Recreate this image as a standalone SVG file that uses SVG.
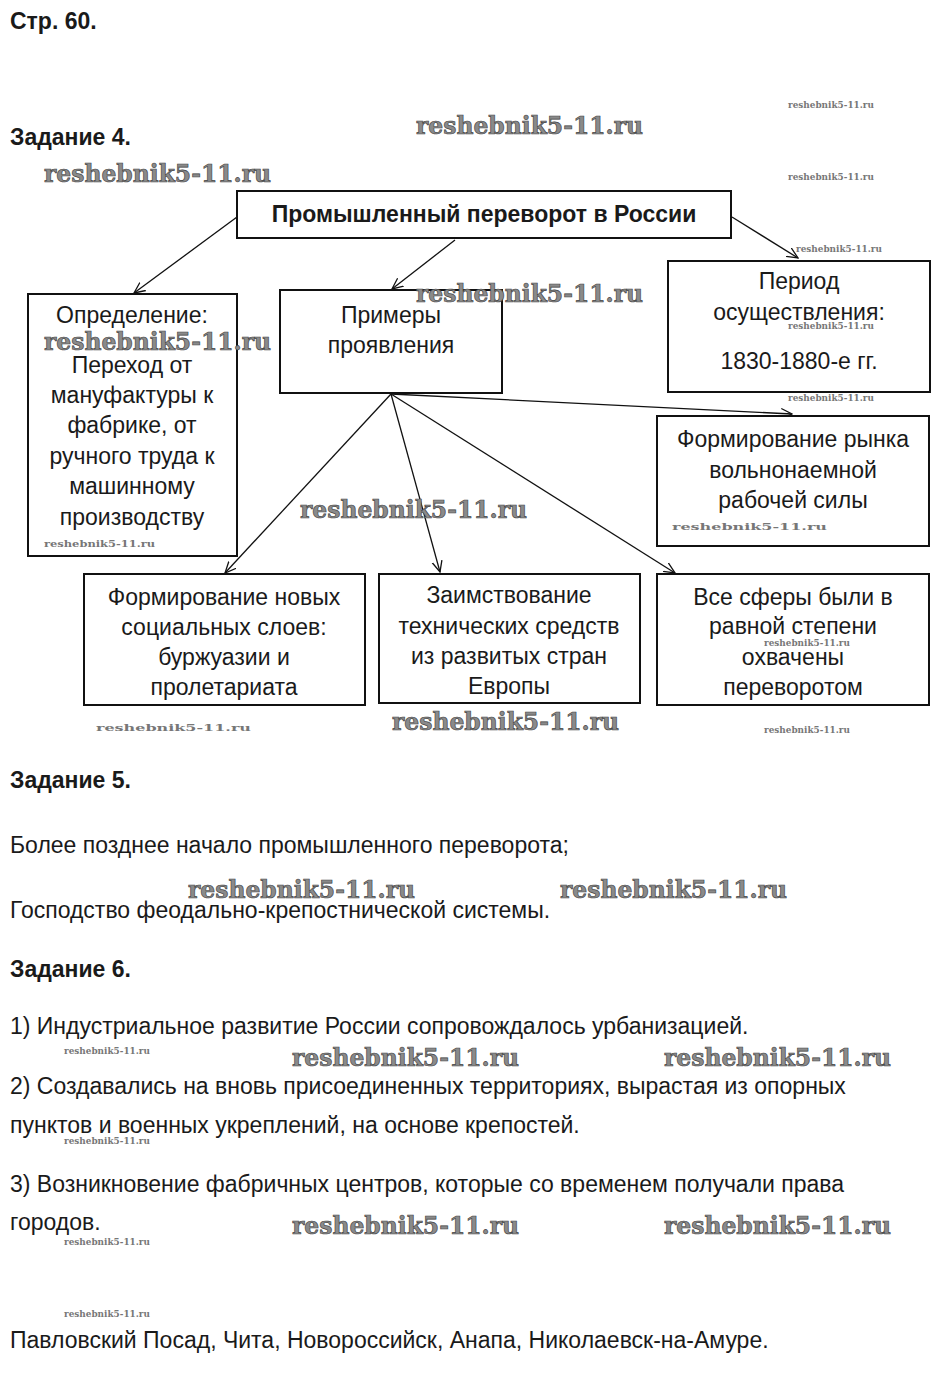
<svg xmlns="http://www.w3.org/2000/svg" width="940" height="1400" viewBox="0 0 940 1400">
<defs>
<style>
.t{font-family:"Liberation Sans",Arial,sans-serif;font-size:23px;fill:#1a1a1a}
.c{text-anchor:middle}
.b{font-weight:bold}
.box{fill:#fff;stroke:#111;stroke-width:2}
.ln{stroke:#111;stroke-width:1.3;fill:none;marker-end:url(#ah)}
.wm{font-family:"DejaVu Serif","Liberation Serif",serif;font-weight:bold;fill:#8a8a8a;stroke:#444;stroke-width:0.7}
.ws{font-family:"DejaVu Serif","Liberation Serif",serif;font-weight:bold;fill:#777;font-size:10px}
</style>
<marker id="ah" viewBox="0 0 12 12" refX="11" refY="6" markerWidth="12" markerHeight="12" markerUnits="userSpaceOnUse" orient="auto">
<polyline points="0,1 11,6 0,11" fill="none" stroke="#111" stroke-width="1.3"/>
</marker>
</defs>
<rect width="940" height="1400" fill="#fff"/>

<text class="t b" x="10" y="29">Стр. 60.</text>
<text class="t b" x="10" y="145">Задание 4.</text>

<g id="connectors">
<line class="ln" x1="237" y1="217" x2="134" y2="293"/>
<line class="ln" x1="455" y1="240" x2="392" y2="289"/>
<line class="ln" x1="732" y1="217" x2="798" y2="258"/>
<line class="ln" x1="391" y1="394" x2="792" y2="414"/>
<line class="ln" x1="391" y1="394" x2="675" y2="573"/>
<line class="ln" x1="391" y1="394" x2="440" y2="572"/>
<line class="ln" x1="391" y1="394" x2="225" y2="573"/>
</g>

<g id="n-title">
<rect class="box" x="237" y="191" width="494" height="47"/>
<text class="t b c" x="484" y="222">Промышленный переворот в России</text>
</g>
<g id="n-def">
<rect class="box" x="28" y="294" width="209" height="262"/>
<text class="t c" x="132" y="323">Определение:</text>
<text class="t c" x="132" y="373">Переход от</text>
<text class="t c" x="132" y="403">мануфактуры к</text>
<text class="t c" x="132" y="433">фабрике, от</text>
<text class="t c" x="132" y="464">ручного труда к</text>
<text class="t c" x="132" y="494">машинному</text>
<text class="t c" x="132" y="525">производству</text>
</g>
<g id="n-examples">
<rect class="box" x="280" y="290" width="222" height="103"/>
<text class="t c" x="391" y="323">Примеры</text>
<text class="t c" x="391" y="353">проявления</text>
</g>
<g id="n-period">
<rect class="box" x="668" y="261" width="262" height="131"/>
<text class="t c" x="799" y="289">Период</text>
<text class="t c" x="799" y="320">осуществления:</text>
<text class="t c" x="799" y="369">1830-1880-е гг.</text>
</g>
<g id="n-market">
<rect class="box" x="657" y="416" width="272" height="130"/>
<text class="t c" x="793" y="447">Формирование рынка</text>
<text class="t c" x="793" y="478">вольнонаемной</text>
<text class="t c" x="793" y="508">рабочей силы</text>
</g>
<g id="n-social">
<rect class="box" x="84" y="574" width="281" height="131"/>
<text class="t c" x="224" y="605">Формирование новых</text>
<text class="t c" x="224" y="635">социальных слоев:</text>
<text class="t c" x="224" y="665">буржуазии и</text>
<text class="t c" x="224" y="695">пролетариата</text>
</g>
<g id="n-borrow">
<rect class="box" x="379" y="574" width="261" height="129"/>
<text class="t c" x="509" y="603">Заимствование</text>
<text class="t c" x="509" y="634">технических средств</text>
<text class="t c" x="509" y="664">из развитых стран</text>
<text class="t c" x="509" y="694">Европы</text>
</g>
<g id="n-spheres">
<rect class="box" x="657" y="574" width="272" height="131"/>
<text class="t c" x="793" y="605">Все сферы были в</text>
<text class="t c" x="793" y="634">равной степени</text>
<text class="t c" x="793" y="665">охвачены</text>
<text class="t c" x="793" y="695">переворотом</text>
</g>

<text class="t b" x="10" y="788">Задание 5.</text>
<text class="t" x="10" y="853">Более позднее начало промышленного переворота;</text>
<text class="t" x="10" y="918">Господство феодально-крепостнической системы.</text>
<text class="t b" x="10" y="977">Задание 6.</text>
<text class="t" x="10" y="1034">1) Индустриальное развитие России сопровождалось урбанизацией.</text>
<text class="t" x="10" y="1094">2) Создавались на вновь присоединенных территориях, вырастая из опорных</text>
<text class="t" x="10" y="1133">пунктов и военных укреплений, на основе крепостей.</text>
<text class="t" x="10" y="1192">3) Возникновение фабричных центров, которые со временем получали права</text>
<text class="t" x="10" y="1230">городов.</text>
<text class="t" x="10" y="1348">Павловский Посад, Чита, Новороссийск, Анапа, Николаевск-на-Амуре.</text>

<g id="watermarks">
<text class="wm" x="416" y="134" font-size="25" textLength="227" lengthAdjust="spacingAndGlyphs">reshebnik5-11.ru</text>
<text class="wm" x="44" y="182" font-size="25" textLength="227" lengthAdjust="spacingAndGlyphs">reshebnik5-11.ru</text>
<text class="wm" x="416" y="302" font-size="25" textLength="227" lengthAdjust="spacingAndGlyphs">reshebnik5-11.ru</text>
<text class="wm" x="44" y="350" font-size="25" textLength="227" lengthAdjust="spacingAndGlyphs">reshebnik5-11.ru</text>
<text class="wm" x="300" y="518" font-size="25" textLength="227" lengthAdjust="spacingAndGlyphs">reshebnik5-11.ru</text>
<text class="wm" x="392" y="730" font-size="25" textLength="227" lengthAdjust="spacingAndGlyphs">reshebnik5-11.ru</text>
<text class="wm" x="188" y="898" font-size="25" textLength="227" lengthAdjust="spacingAndGlyphs">reshebnik5-11.ru</text>
<text class="wm" x="560" y="898" font-size="25" textLength="227" lengthAdjust="spacingAndGlyphs">reshebnik5-11.ru</text>
<text class="wm" x="292" y="1066" font-size="25" textLength="227" lengthAdjust="spacingAndGlyphs">reshebnik5-11.ru</text>
<text class="wm" x="664" y="1066" font-size="25" textLength="227" lengthAdjust="spacingAndGlyphs">reshebnik5-11.ru</text>
<text class="wm" x="292" y="1234" font-size="25" textLength="227" lengthAdjust="spacingAndGlyphs">reshebnik5-11.ru</text>
<text class="wm" x="664" y="1234" font-size="25" textLength="227" lengthAdjust="spacingAndGlyphs">reshebnik5-11.ru</text>
<text class="ws" x="788" y="108" textLength="86" lengthAdjust="spacingAndGlyphs">reshebnik5-11.ru</text>
<text class="ws" x="788" y="180" textLength="86" lengthAdjust="spacingAndGlyphs">reshebnik5-11.ru</text>
<text class="ws" x="796" y="252" textLength="86" lengthAdjust="spacingAndGlyphs">reshebnik5-11.ru</text>
<text class="ws" x="788" y="329" textLength="86" lengthAdjust="spacingAndGlyphs">reshebnik5-11.ru</text>
<text class="ws" x="788" y="401" textLength="86" lengthAdjust="spacingAndGlyphs">reshebnik5-11.ru</text>
<text class="ws" x="764" y="646" textLength="86" lengthAdjust="spacingAndGlyphs">reshebnik5-11.ru</text>
<text class="ws" x="764" y="733" textLength="86" lengthAdjust="spacingAndGlyphs">reshebnik5-11.ru</text>
<text class="ws" x="64" y="1054" textLength="86" lengthAdjust="spacingAndGlyphs">reshebnik5-11.ru</text>
<text class="ws" x="64" y="1144" textLength="86" lengthAdjust="spacingAndGlyphs">reshebnik5-11.ru</text>
<text class="ws" x="64" y="1245" textLength="86" lengthAdjust="spacingAndGlyphs">reshebnik5-11.ru</text>
<text class="ws" x="64" y="1317" textLength="86" lengthAdjust="spacingAndGlyphs">reshebnik5-11.ru</text>
<text class="ws" x="44" y="547" font-size="12" textLength="111" lengthAdjust="spacingAndGlyphs">reshebnik5-11.ru</text>
<text class="ws" x="672" y="530" font-size="16" fill="#888" textLength="155" lengthAdjust="spacingAndGlyphs">reshebnik5-11.ru</text>
<text class="ws" x="96" y="731" font-size="16" fill="#888" textLength="155" lengthAdjust="spacingAndGlyphs">reshebnik5-11.ru</text>
</g>
</svg>
